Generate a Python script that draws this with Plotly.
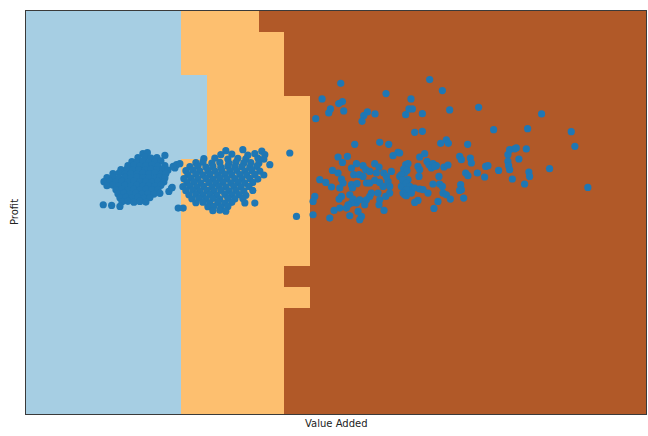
import numpy as np
import plotly.graph_objects as go

# ---------------- classifier mesh (decision regions) ----------------
X_MIN, X_MAX, N_COLS = 0.0, 620.5, 24
Y_MIN, Y_MAX, N_ROWS = 0.0, 402.5, 19
# per mesh row, listed from the TOP row down:
# number of leading class-0 cells, and index of first class-2 cell
blue_cols = [6, 6, 6, 7, 7, 7, 7, 6, 6, 6, 6, 6, 6, 6, 6, 6, 6, 6, 6]
brown_start = [9, 10, 10, 10, 11, 11, 11, 11, 11, 11, 11, 11, 10, 11, 10, 10, 10, 10, 10]
region_colors = ["#a6cee3", "#fdbf6f", "#b15928"]

# ---------------- observations (Value Added, Profit) ----------------
left_pts = [
    (117, 260), (121.5, 261),
    (112, 256), (119, 256.5), (125, 255.5), (131, 256), (139, 258.3),
    (106, 252), (111, 251.5), (117, 252.5), (123, 251), (129, 252), (135, 252.8),
    (102, 248), (108, 248.5), (114, 247.5), (120, 248), (126, 248.6), (132, 247.4), (139, 248),
    (95, 244), (101, 244.5), (107, 243.6), (113, 244.2), (119, 243.5), (125, 244.4), (131, 243.8), (137, 244.6), (142, 243.5),
    (87, 240), (93, 240.6), (99, 239.5), (105, 240.2), (111, 239.6), (117, 240.4), (123, 239.8), (129, 240.5), (135, 239.4), (140, 240.2),
    (81, 236), (87, 236.5), (93, 235.6), (99, 236.3), (105, 235.5), (111, 236.4), (117, 235.8), (123, 236.2), (129, 235.4), (134, 236.5), (139, 235.8),
    (78, 232), (84, 232.4), (90, 231.5), (96, 232.3), (102, 231.6), (108, 232.5), (114, 231.8), (120, 232.2), (126, 231.4), (132, 232.3), (138, 231.6),
    (81, 228), (87, 228.5), (93, 227.6), (99, 228.4), (105, 227.5), (111, 228.3), (117, 227.7), (123, 228.2), (129, 227.5), (135, 228.4),
    (90, 224), (96, 224.5), (102, 223.6), (108, 224.3), (114, 223.5), (120, 224.4), (126, 223.8), (132, 224.2),
    (92, 220), (98, 220.4), (104, 219.6), (110, 220.3), (116, 219.5), (122, 220.2), (128, 219.7), (134, 220.4),
    (94, 216), (100, 216.5), (106, 215.6), (112, 216.3), (118, 215.5), (124, 216.2),
    (96, 212), (102, 212.4), (108, 211.6), (114, 212.3), (120, 211.7),
    (149, 245.7), (146.3, 226.3), (143, 222.3), (77.3, 209), (85.7, 208.3), (94, 207.3),
    (147.3, 247.3), (150.7, 249), (154, 250), (145.7, 225.7),
]

mid_pts = [
    (200, 263), (217, 264), (236, 262.5),
    (195, 259), (206, 259.6), (222, 258.5), (229, 260), (239, 259),
    (178, 255), (189, 255.5), (202, 254.6), (212, 255.4), (220, 254.8), (232, 255.6), (238, 254.5),
    (170, 251), (177, 251.5), (186, 250.6), (194, 251.3), (203, 250.5), (210, 251.4), (218, 250.8), (225, 251.2), (233, 250.5), (244, 249),
    (164, 247), (172, 247.5), (180, 246.6), (187, 247.3), (195, 246.5), (202, 247.4), (209, 246.8), (216, 247.2), (224, 246.5), (231, 247.3),
    (160, 243), (167, 243.5), (174, 242.6), (182, 243.3), (189, 242.5), (196, 243.4), (204, 242.8), (211, 243.2), (219, 242.5), (226, 243.3), (234, 242.6),
    (162, 239), (170, 239.5), (177, 238.6), (184, 239.3), (192, 238.5), (199, 239.4), (206, 238.8), (214, 239.2), (221, 238.5), (229, 239.3), (238, 238.7),
    (158, 235), (165, 235.5), (172, 234.6), (180, 235.3), (187, 234.5), (194, 235.4), (201, 234.8), (209, 235.2), (216, 234.5), (224, 235.3), (232, 234.6),
    (161, 231), (168, 231.5), (175, 230.6), (183, 231.3), (190, 230.5), (197, 231.4), (205, 230.8), (212, 231.2), (219, 230.5), (227, 231.3),
    (157, 227), (164, 227.5), (171, 226.6), (178, 227.3), (186, 226.5), (193, 227.4), (200, 226.8), (208, 227.2), (215, 226.5), (223, 227.3),
    (160, 223), (167, 223.5), (174, 222.6), (181, 223.3), (188, 222.5), (195, 223.4), (203, 222.8), (210, 223.2), (218, 222.5), (227, 223.3),
    (163, 219), (170, 219.5), (177, 218.6), (184, 219.3), (191, 218.5), (199, 219.4), (206, 218.8), (213, 219.2), (220, 218.5),
    (166, 215), (173, 215.5), (180, 214.6), (187, 215.3), (194, 214.5), (202, 215.4), (209, 214.8), (217, 215.2),
    (170, 211), (177, 211.5), (184, 210.6), (192, 211.3), (199, 210.5), (206, 211.4), (219, 210.8), (229, 210.7),
    (152.3, 205.7), (157.3, 205.7), (182, 207), (188, 207.5), (195, 206.6), (202, 207.3),
    (187, 203), (194, 203.5), (200, 202.6),
    (264, 260.7), (270.7, 197.3),
]

right_pts = [
    (315, 330.3), (296.3, 314.7), (316.7, 312), (313, 310), (304.7, 304.7), (303, 300.7),
    (318, 302.7), (290, 295), (360.3, 320), (341.7, 301.7), (338, 298), (336.3, 292.3),
    (349.3, 299.7), (380, 299), (383.3, 304.7), (386.7, 304.7), (385.3, 314.7), (329, 269.3),
    (354, 271.3), (363, 269.3), (404, 334), (416.7, 323), (396.7, 300), (424, 303.7),
    (453, 306.3), (516, 299.7), (389, 281.3), (396.7, 282.3), (420.7, 273.7), (415, 270.3),
    (422.7, 270.3), (442, 269.3), (468, 284), (502, 285), (545.7, 282), (549.3, 267.3),
    (312.3, 256.7), (321.7, 257.3), (316.7, 251.3), (372.3, 261.3), (367.3, 258), (306.7, 243.3),
    (294, 234), (300, 231.3), (305.7, 226.7), (289, 217.3), (287.3, 212.3), (287.3, 199),
    (304, 195.7), (308.3, 203.3), (314, 205.7), (320.7, 205.7), (324, 198), (332.3, 202.3),
    (335.7, 197.3), (334, 194), (312.3, 240.7), (315.7, 234.7), (317.3, 230.7), (314, 225.7),
    (315.7, 217.3), (313.3, 214.7), (325.7, 245.7), (330.7, 250), (328, 239), (325.7, 229),
    (326.7, 225.7), (337.3, 248), (340, 244), (344, 242.3), (349, 250), (353.3, 246.7),
    (350.7, 240.7), (333.3, 239), (337.3, 237.3), (340.7, 230.7), (331.3, 230), (344, 230.7),
    (349, 233.3), (354, 231.3), (357.3, 227.3), (362.3, 232.3), (364, 227.3), (324, 219),
    (327.3, 214.7), (330.7, 210.7), (334, 214), (325.7, 210.7), (322.3, 209), (340.7, 214),
    (344, 217.3), (345.7, 220.7), (339, 209), (352.3, 220.7), (354, 214), (353.3, 209),
    (358.3, 203.3), (360, 217.3), (364, 220.7), (358, 240.7), (365.7, 242.3), (360.7, 237.3),
    (374, 237.3), (379, 240.7), (377.3, 232.3), (375.7, 227.3), (379, 219), (382.3, 234),
    (380.7, 245.7),
    (394, 256.7), (399, 260), (434, 257.3), (435.7, 254), (444.7, 255.7), (445.7, 250.7),
    (374, 260.7), (380, 249), (382.3, 250), (378, 244.7), (381.3, 243.3), (375.7, 239),
    (377.3, 234), (380.7, 230.7), (384, 227.3), (385.7, 224), (389, 225.7), (380.7, 224),
    (377.3, 220.7), (380.7, 218), (385.7, 220.7), (394, 224.7), (397.3, 224), (392.3, 247.3),
    (394, 244), (393.3, 237.3), (401.3, 252.3), (403.3, 249), (407.3, 250), (410.7, 248),
    (405.7, 245.7), (409, 247.3), (418.3, 246.7), (422.3, 248.7), (413.3, 237.3), (407.3, 229.7),
    (414, 229.7), (416.7, 227.3), (402.3, 220.7), (417.3, 220.7), (420.7, 219), (424.7, 214.7),
    (412.3, 212.3), (392.3, 213.3), (389, 211.3), (408.3, 205.3), (438, 215.7), (435, 229),
    (435.7, 224), (434, 223.3), (440, 240.7), (442.3, 238), (451.7, 240.7), (459, 236.7),
    (460, 247.3), (462.3, 248), (473, 243.3), (482.3, 259), (484, 264), (489, 264.7),
    (490.7, 265.7), (500.7, 264.7), (493.3, 254.7), (482.3, 252.3), (483, 248), (484, 244),
    (486.7, 234.7), (503.3, 241.7), (504, 237.3), (499, 229.7), (524, 245), (562.3, 226.3),
]

# ---------------- build figure ----------------
x_edges = np.linspace(X_MIN, X_MAX, N_COLS + 1)
y_edges = np.linspace(Y_MIN, Y_MAX, N_ROWS + 1)
cols = np.arange(N_COLS)
z_top_down = []
for b, s in zip(blue_cols, brown_start):
    z_top_down.append(np.where(cols < b, 0, np.where(cols < s, 1, 2)))
z = np.array(z_top_down[::-1])

fig = go.Figure()
fig.add_trace(go.Heatmap(
    x=x_edges, y=y_edges, z=z, zmin=0, zmax=2,
    colorscale=[[0, region_colors[0]], [0.5, region_colors[1]], [1, region_colors[2]]],
    showscale=False, hoverinfo="skip",
))

all_pts = left_pts + mid_pts + right_pts
fig.add_trace(go.Scatter(
    x=[p[0] for p in all_pts], y=[p[1] for p in all_pts],
    mode="markers",
    marker=dict(color="#1f77b4", size=7.2, line=dict(width=0)),
    showlegend=False,
))

axis_common = dict(showticklabels=False, ticks="", showgrid=False, zeroline=False,
                   showline=True, mirror=True, linecolor="#3a3a3a", linewidth=1)
fig.update_xaxes(range=[X_MIN, X_MAX], **axis_common)
fig.update_yaxes(range=[Y_MIN, Y_MAX], **axis_common)

fig.update_layout(
    width=648, height=436,
    margin=dict(l=26, r=2, t=11, b=22),
    paper_bgcolor="white", plot_bgcolor="white",
    showlegend=False,
    font=dict(family="DejaVu Sans", size=10, color="#222"),
    annotations=[
        dict(text="Value Added", x=0.5, y=0, xref="paper", yref="paper",
             xanchor="center", yanchor="top", yshift=-2, showarrow=False,
             font=dict(family="DejaVu Sans", size=10, color="#222")),
        dict(text="Profit", x=0, y=0.5, xref="paper", yref="paper",
             xanchor="right", yanchor="middle", xshift=-4, textangle=-90, showarrow=False,
             font=dict(family="DejaVu Sans", size=10, color="#222")),
    ],
)

fig.write_html(
    "out.html",
    config={"responsive": False, "displayModeBar": False},
    post_script="document.body.style.margin='0';document.body.style.overflow='hidden';",
)
